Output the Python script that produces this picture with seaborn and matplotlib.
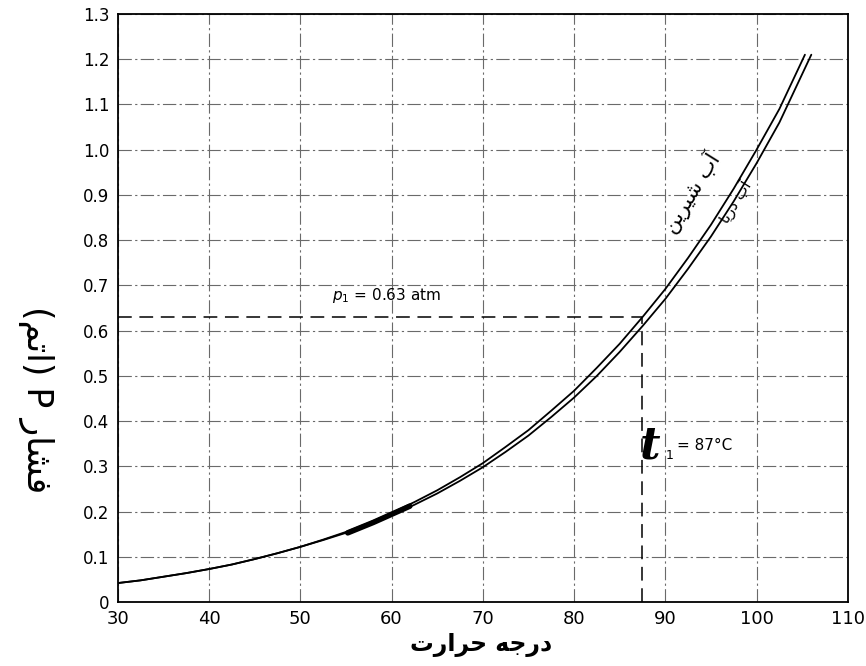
import numpy as np
import pandas as pd
import matplotlib
matplotlib.use('Agg')
import matplotlib.pyplot as plt
import seaborn as sns

# vapour pressure curves (temperature in C, pressure in atm)
temp_fresh = [30, 32.5, 35, 37.5, 40, 42.5, 45, 47.5, 50, 52.5, 55, 57.5, 60, 62.5,
              65, 67.5, 70, 72.5, 75, 77.5, 80, 82.5, 85, 87.5, 90, 92.5, 95, 97.5,
              100, 102.5, 105.3]
p_fresh = [0.042, 0.048, 0.056, 0.064, 0.073, 0.083, 0.095, 0.108, 0.122, 0.138,
           0.155, 0.175, 0.197, 0.221, 0.247, 0.276, 0.307, 0.343, 0.380, 0.423,
           0.467, 0.518, 0.571, 0.630, 0.692, 0.761, 0.834, 0.914, 1.000, 1.090,
           1.210]
temp_sea = [30, 32.5, 35, 37.5, 40, 42.5, 45, 47.5, 50, 52.5, 55, 57.5, 60, 62.5,
            65, 67.5, 70, 72.5, 75, 77.5, 80, 82.5, 85, 87.5, 90, 92.5, 95, 97.5,
            100, 102.5, 106.0]
p_sea = [0.042, 0.048, 0.056, 0.064, 0.073, 0.083, 0.095, 0.108, 0.122, 0.137,
         0.153, 0.172, 0.192, 0.215, 0.240, 0.268, 0.298, 0.332, 0.368, 0.409,
         0.452, 0.500, 0.553, 0.610, 0.670, 0.737, 0.808, 0.886, 0.970, 1.060,
         1.210]

# the thick pen stroke over the curve near 60 C
temp_stroke = [55.2, 58.0, 62.0]
p_stroke = [0.153, 0.176, 0.212]

p1 = 0.63
t1 = 87.5

x_ticks = [30, 40, 50, 60, 70, 80, 90, 100, 110]
y_ticks = [0, 0.1, 0.2, 0.3, 0.4, 0.5, 0.6, 0.7, 0.8, 0.9, 1.0, 1.1, 1.2, 1.3]
y_ticklabels = ['0', '0.1', '0.2', '0.3', '0.4', '0.5', '0.6', '0.7', '0.8', '0.9',
                '1.0', '1.1', '1.2', '1.3']

xlabel = 'درجه حرارت'
ylabel = 'فشار P (اتم)'
label_fresh = 'آب شیرین'
label_sea = 'آب دریا'

# presentation forms: isolated, final, initial, medial
FORMS = {
    'ا': ('\uFE8D', '\uFE8E', None, None),
    'آ': ('\uFE81', '\uFE82', None, None),
    'ب': ('\uFE8F', '\uFE90', '\uFE91', '\uFE92'),
    'ت': ('\uFE95', '\uFE96', '\uFE97', '\uFE98'),
    'ج': ('\uFE9D', '\uFE9E', '\uFE9F', '\uFEA0'),
    'ح': ('\uFEA1', '\uFEA2', '\uFEA3', '\uFEA4'),
    'د': ('\uFEA9', '\uFEAA', None, None),
    'ر': ('\uFEAD', '\uFEAE', None, None),
    'ش': ('\uFEB5', '\uFEB6', '\uFEB7', '\uFEB8'),
    'ف': ('\uFED1', '\uFED2', '\uFED3', '\uFED4'),
    'م': ('\uFEE1', '\uFEE2', '\uFEE3', '\uFEE4'),
    'ن': ('\uFEE5', '\uFEE6', '\uFEE7', '\uFEE8'),
    'ه': ('\uFEE9', '\uFEEA', '\uFEEB', '\uFEEC'),
    'ی': ('\uFBFC', '\uFBFD', '\uFEF3', '\uFEF4'),
}


def shape(text):
    # matplotlib has no arabic shaping, so pick the joined forms and reverse
    out = []
    for i, ch in enumerate(text):
        if ch not in FORMS:
            out.append(ch)
            continue
        prev = text[i - 1] if i > 0 else ''
        nxt = text[i + 1] if i + 1 < len(text) else ''
        iso, fin, ini, med = FORMS[ch]
        join_prev = prev in FORMS and FORMS[prev][2] is not None
        join_next = ini is not None and nxt in FORMS
        if join_prev and join_next:
            out.append(med)
        elif join_prev:
            out.append(fin)
        elif join_next:
            out.append(ini)
        else:
            out.append(iso)
    vis = ''.join(out)[::-1]
    return vis.translate(str.maketrans('()', ')('))


sns.set_style('white')
plt.rcParams['font.family'] = ['DejaVu Sans']
plt.rcParams['text.color'] = 'black'
plt.rcParams['xtick.color'] = 'black'
plt.rcParams['ytick.color'] = 'black'

fig = plt.figure(figsize=(8.66, 6.66), dpi=100)
ax = fig.add_axes([0.136, 0.096, 0.843, 0.883])

df_fresh = pd.DataFrame({'t': temp_fresh, 'p': p_fresh})
df_sea = pd.DataFrame({'t': temp_sea, 'p': p_sea})
df_stroke = pd.DataFrame({'t': temp_stroke, 'p': p_stroke})

sns.lineplot(data=df_fresh, x='t', y='p', color='black', lw=1.3, ax=ax, sort=False)
sns.lineplot(data=df_sea, x='t', y='p', color='black', lw=1.3, ax=ax, sort=False)
sns.lineplot(data=df_stroke, x='t', y='p', color='black', lw=4, ax=ax, sort=False)

# p1 / t1 reading lines
ax.plot([30, t1], [p1, p1], color='black', lw=1.1, ls=(0, (9, 5)))
ax.plot([t1, t1], [0, p1], color='black', lw=1.1, ls=(0, (9, 5)))

ax.set_xlim(30, 110)
ax.set_ylim(0, 1.3)
ax.set_xticks(x_ticks)
ax.set_yticks(y_ticks)
ax.set_xticklabels([str(v) for v in x_ticks], fontsize=13,
                   family=['Liberation Sans Narrow', 'DejaVu Sans'])
ax.set_yticklabels(y_ticklabels, fontsize=12)
ax.tick_params(length=0, pad=6)
ax.grid(True, color='#6a6a6a', lw=0.8, ls=(0, (12, 3, 2, 3)))
for s in ax.spines.values():
    s.set_color('black')
    s.set_linewidth(1.3)
ax.set_xlabel('')
ax.set_ylabel('')

ax.text(53.5, 0.677, '$p_1$ = 0.63 atm', fontsize=11, va='center', ha='left')
ax.text(87.2, 0.345, 't', fontsize=32, fontweight='bold', style='italic',
        va='center', ha='left', family='DejaVu Serif')
ax.text(90.0, 0.325, '1', fontsize=9, va='center', ha='left')
ax.text(91.3, 0.347, '= 87°C', fontsize=11, va='center', ha='left')

ax.text(92.9, 0.905, shape(label_fresh), fontsize=15, rotation=58,
        ha='center', va='center')
ax.text(97.6, 0.885, shape(label_sea), fontsize=11, rotation=58,
        ha='center', va='center')

fig.text(0.555, 0.032, shape(xlabel), fontsize=17, fontweight='bold',
         ha='center', va='center')
fig.text(0.042, 0.40, shape(ylabel), fontsize=25, rotation=270,
         ha='center', va='center')

fig.savefig('out.png', dpi=100)
